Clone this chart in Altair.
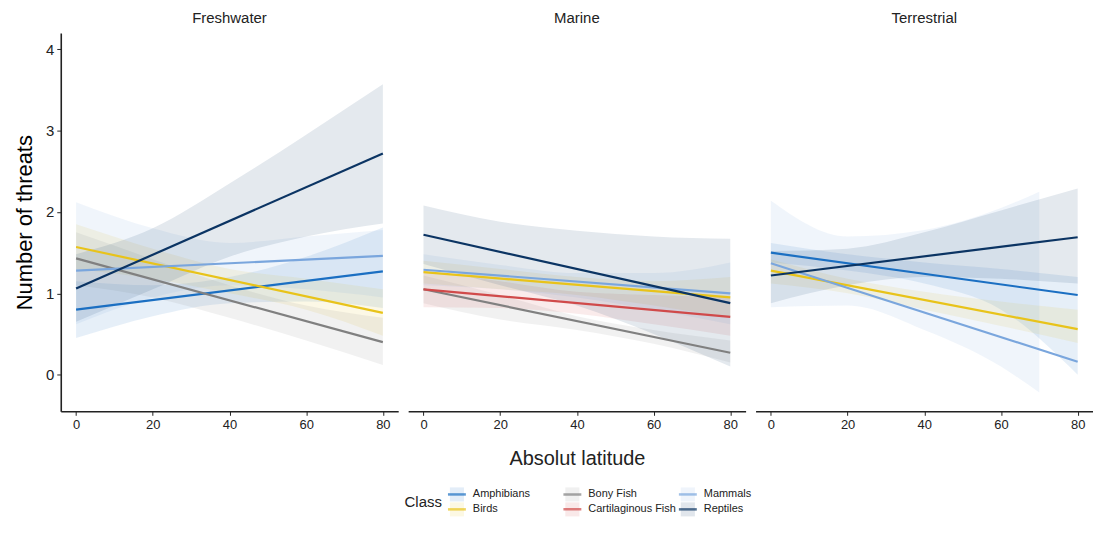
import altair as alt
import pandas as pd

# ---------------- data ----------------
HABITATS = ["Freshwater", "Marine", "Terrestrial"]
CLASSES = ["Amphibians", "Bony Fish", "Mammals", "Birds", "Cartilaginous Fish", "Reptiles"]
COLORS = ["#1b6fc2", "#808080", "#7aa6dd", "#e8c31a", "#d04a4a", "#0b3463"]

LAT = [0, 20, 40, 60, 80]
LINE_LAT = [0, 80]

# fitted lines: value at latitude 0 and at latitude 80
FW_LINE = {"Amphibians": [0.80, 1.27], "Birds": [1.57, 0.76], "Bony Fish": [1.43, 0.40],
           "Mammals": [1.28, 1.46], "Reptiles": [1.06, 2.72]}
MA_LINE = {"Birds": [1.26, 0.95], "Bony Fish": [1.05, 0.27], "Cartilaginous Fish": [1.05, 0.71],
           "Mammals": [1.29, 1.00], "Reptiles": [1.72, 0.88]}
TE_LINE = {"Amphibians": [1.50, 0.98], "Birds": [1.28, 0.56], "Mammals": [1.37, 0.16],
           "Reptiles": [1.22, 1.69]}

# confidence ribbons: lower / upper at latitudes LAT
FW_LO = {"Amphibians": [0.45, 0.72, 0.88, 0.90, 0.82], "Birds": [1.30, 1.18, 1.00, 0.80, 0.48],
         "Bony Fish": [1.10, 0.95, 0.70, 0.42, 0.12], "Mammals": [0.62, 0.95, 1.10, 1.05, 0.95],
         "Reptiles": [0.65, 1.05, 1.45, 1.70, 1.86]}
FW_HI = {"Amphibians": [1.15, 1.10, 1.20, 1.45, 1.81], "Birds": [1.85, 1.55, 1.30, 1.18, 1.05],
         "Bony Fish": [1.75, 1.42, 1.10, 0.85, 0.70], "Mammals": [2.12, 1.80, 1.62, 1.70, 1.78],
         "Reptiles": [1.48, 1.80, 2.35, 2.95, 3.57]}
MA_LO = {"Birds": [1.12, 1.05, 0.98, 0.85, 0.70], "Bony Fish": [0.88, 0.68, 0.55, 0.38, 0.15],
         "Cartilaginous Fish": [0.83, 0.82, 0.75, 0.62, 0.48], "Mammals": [1.10, 1.05, 0.95, 0.80, 0.62],
         "Reptiles": [1.36, 1.10, 0.85, 0.50, 0.10]}
MA_HI = {"Birds": [1.40, 1.30, 1.20, 1.15, 1.20], "Bony Fish": [1.22, 0.98, 0.72, 0.55, 0.42],
         "Cartilaginous Fish": [1.28, 1.15, 1.02, 0.98, 0.95], "Mammals": [1.48, 1.35, 1.25, 1.25, 1.38],
         "Reptiles": [2.08, 1.88, 1.77, 1.70, 1.67]}
TE_LO = {"Amphibians": [1.38, 1.28, 1.12, 0.80, 0.00], "Birds": [1.12, 1.00, 0.80, 0.60, 0.39],
         "Mammals": [0.83, 0.85, 0.55, 0.10, -0.22], "Reptiles": [0.88, 1.10, 1.20, 1.18, 1.12]}
TE_HI = {"Amphibians": [1.62, 1.48, 1.38, 1.30, 1.20], "Birds": [1.42, 1.18, 1.02, 0.90, 0.80],
         "Mammals": [2.14, 1.70, 1.78, 2.05, 2.25], "Reptiles": [1.52, 1.55, 1.75, 2.02, 2.29]}
TE_MAMMAL_LAT = [0, 20, 40, 60, 70]   # this ribbon stops at latitude 70

Y_TICKS = [0, 1, 2, 3, 4]
X_TICKS = [0, 20, 40, 60, 80]

# ---------------- one table: line rows + ribbon rows ----------------
rows = []
for hab, lines, los, his in [("Freshwater", FW_LINE, FW_LO, FW_HI),
                             ("Marine", MA_LINE, MA_LO, MA_HI),
                             ("Terrestrial", TE_LINE, TE_LO, TE_HI)]:
    for cls, vals in lines.items():
        for la, v in zip(LINE_LAT, vals):
            rows.append({"Habitat": hab, "kind": "line", "Class": cls, "lat": la, "y": v})
    for cls in los:
        lats = TE_MAMMAL_LAT if (hab == "Terrestrial" and cls == "Mammals") else LAT
        for la, lo, hi in zip(lats, los[cls], his[cls]):
            rows.append({"Habitat": hab, "kind": "ribbon", "RibbonClass": cls, "lat": la,
                         "lo": lo, "hi": hi})
df = pd.DataFrame(rows)

# legend entries laid out row-major in 3 columns (as in the reference legend)
legend_df = pd.DataFrame({"Class": CLASSES,
                          "col": [i % 3 for i in range(len(CLASSES))],
                          "row": [i // 3 for i in range(len(CLASSES))]})

FONT = "Liberation Sans"
xscale = alt.Scale(domain=[-4, 84], nice=False, zero=False)
yscale = alt.Scale(domain=[-0.45, 4.2], nice=False, zero=False)
cscale = alt.Scale(domain=CLASSES, range=COLORS)

xaxis = alt.Axis(values=X_TICKS, format="d", title=None,
                 labelFontSize=13, labelColor="#222", tickSize=4, labelPadding=3,
                 domainColor="#222", domainWidth=1.6, tickColor="#222", grid=False)
yaxis = alt.Axis(values=Y_TICKS, format="d", title="Number of threats", titleFontSize=22,
                 titleFontWeight="normal", titlePadding=9, labelFontSize=15,
                 labelColor="#222", tickSize=4, labelPadding=3, domainColor="#222",
                 domainWidth=1.6, tickColor="#222", grid=False)

base = alt.Chart(df)
rib = base.transform_filter(alt.datum.kind == "ribbon").mark_area(
    opacity=0.11, interpolate="monotone", clip=True
).encode(
    x=alt.X("lat:Q", scale=xscale, axis=xaxis),
    y=alt.Y("lo:Q", scale=yscale, axis=yaxis),
    y2="hi:Q",
    fill=alt.Fill("RibbonClass:N", scale=cscale, legend=None),
    detail="RibbonClass:N",
)
ln = base.transform_filter(alt.datum.kind == "line").mark_line(strokeWidth=2.2, clip=True).encode(
    x=alt.X("lat:Q", scale=xscale),
    y=alt.Y("y:Q", scale=yscale),
    color=alt.Color("Class:N", scale=cscale, legend=None),
)

panels = alt.layer(rib, ln).properties(width=339, height=380).facet(
    column=alt.Column("Habitat:N", sort=HABITATS, title="Absolut latitude",
                      header=alt.Header(titleOrient="bottom", labelOrient="top",
                                        titleFontSize=20, titleFontWeight="normal",
                                        titleColor="#222", titlePadding=8,
                                        labelFontSize=15, labelColor="#222", labelPadding=7)),
    spacing=10,
)

# ---------------- legend (drawn as a small chart under the panels) ----------------
lx = alt.Scale(domain=[-3.431, 5.190], nice=False, zero=False)
ly = alt.Scale(domain=[-0.5, 1.5], nice=False, zero=False, reverse=True)
lbase = alt.Chart(legend_df)
key_box = lbase.mark_square(size=200, opacity=0.12).encode(
    x=alt.X("col:Q", scale=lx, axis=None),
    y=alt.Y("row:Q", scale=ly, axis=None),
    color=alt.Color("Class:N", scale=cscale, legend=None),
)
key_line = lbase.mark_tick(orient="horizontal", size=18, thickness=2.5).encode(
    x=alt.X("col:Q", scale=lx, axis=None),
    y=alt.Y("row:Q", scale=ly, axis=None),
    color=alt.Color("Class:N", scale=cscale, legend=None),
)
key_text = lbase.mark_text(align="left", baseline="middle", dx=16, fontSize=11,
                           color="#222", font=FONT).encode(
    x=alt.X("col:Q", scale=lx, axis=None),
    y=alt.Y("row:Q", scale=ly, axis=None),
    text="Class:N",
)
key_title = alt.Chart(pd.DataFrame({"t": ["Class"]})).mark_text(
    align="right", baseline="middle", fontSize=15, color="#222", font=FONT
).encode(x=alt.datum(-0.13), y=alt.datum(0.5), text="t:N")

legend = alt.layer(key_box, key_line, key_text, key_title).properties(width=1000, height=30)

chart = alt.vconcat(panels, legend, spacing=18).properties(
    padding={"left": 5, "top": 2, "right": 0, "bottom": 0}
).configure(font=FONT).configure_view(stroke=None)

chart.save("out.html", embed_options={"renderer": "svg", "actions": False})
